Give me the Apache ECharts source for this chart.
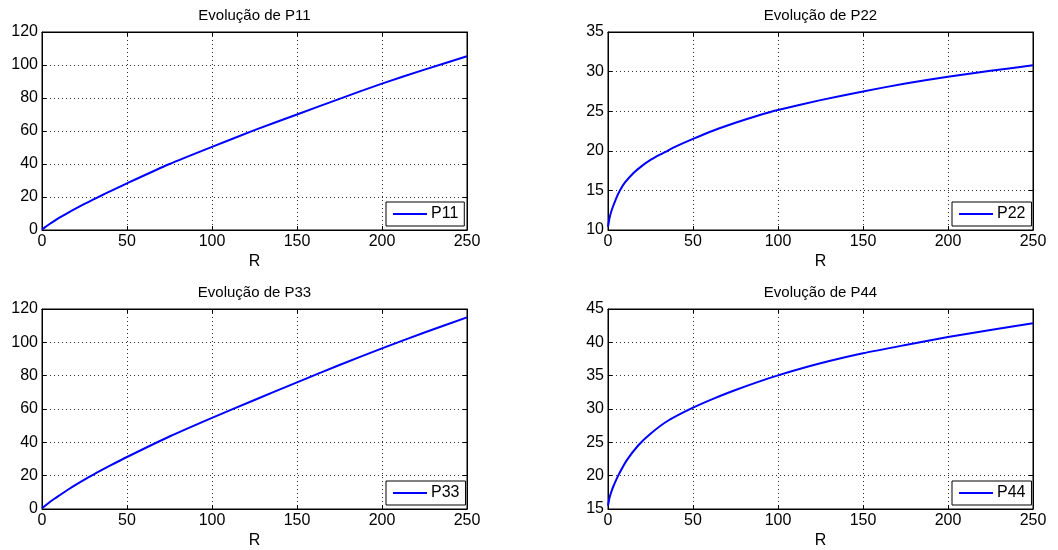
<!DOCTYPE html>
<html>
<head>
<meta charset="utf-8">
<script src="https://cdn.jsdelivr.net/npm/echarts@6/dist/echarts.min.js"></script>
<style>
html,body{margin:0;padding:0;background:#fff;}
#chart{width:1058px;height:550px;}
</style>
</head>
<body>
<div id="chart"></div>
<script>
// ---- Data ----
var titles = ['Evolução de P11', 'Evolução de P22', 'Evolução de P33', 'Evolução de P44'];
var seriesNames = ['P11', 'P22', 'P33', 'P44'];
var xTicks = [0, 50, 100, 150, 200, 250];

var R_P11 = [0, 2, 5, 7.5, 10, 15, 20, 25, 30, 35, 40, 50, 75, 100, 125, 150, 175, 200, 225, 250];
var P11   = [0.3, 1.9, 4.0, 5.7, 7.3, 10.3, 13.1, 15.8, 18.4, 20.9, 23.4, 28.3, 40, 50.4, 60.5, 70, 79.5, 88.7, 97.2, 105.3];

var R_P22 = [0, 1, 2, 3, 5, 7, 10, 15, 20, 25, 30, 35, 40, 50, 62.5, 75, 87.5, 100, 125, 150, 175, 200, 225, 250];
var P22   = [10.4, 11.6, 12.4, 13.0, 14.1, 15.0, 16.0, 17.2, 18.1, 18.85, 19.45, 20.0, 20.55, 21.5, 22.6, 23.55, 24.4, 25.15, 26.4, 27.5, 28.5, 29.35, 30.1, 30.8];

var R_P33 = [0, 2, 5, 7.5, 10, 15, 20, 25, 30, 35, 40, 50, 75, 100, 125, 150, 175, 200, 225, 250];
var P33   = [0.4, 2.1, 4.5, 6.3, 8.0, 11.4, 14.6, 17.6, 20.5, 23.3, 26.0, 31.2, 43.5, 54.7, 65.4, 76, 86.4, 96.4, 105.9, 115];

var R_P44 = [0, 1, 2, 3, 6, 11, 18, 25, 35, 50, 62.5, 75, 87.5, 100, 125, 150, 175, 200, 225, 250];
var P44   = [15.5, 16.8, 17.6, 18.3, 20.0, 22.3, 24.6, 26.3, 28.2, 30.2, 31.6, 32.85, 34.0, 35.05, 36.85, 38.35, 39.6, 40.8, 41.85, 42.85];

var yMins = [0, 10, 0, 15];
var yMaxs = [120, 35, 120, 45];
var yIntervals = [20, 5, 20, 5];

// ---- Layout ----
var grids = [
  {left: 42, top: 32, width: 425, height: 198},
  {left: 608, top: 32, width: 425, height: 198},
  {left: 42, top: 309, width: 425, height: 200},
  {left: 608, top: 309, width: 425, height: 200}
];
var xs = [R_P11, R_P22, R_P33, R_P44];
var ys = [P11, P22, P33, P44];

var FONT = "'Liberation Sans', Arial, sans-serif";
var FS = 16;

function pairs(a, b) { return a.map(function (v, i) { return [v, b[i]]; }); }

var option = {
  backgroundColor: '#ffffff',
  animation: false,
  textStyle: {fontFamily: FONT, color: '#000'},
  grid: [], xAxis: [], yAxis: [], series: [], legend: [], graphic: []
};

grids.forEach(function (g, i) {
  option.grid.push({left: g.left, top: g.top, width: g.width, height: g.height,
    show: true, borderColor: '#000', borderWidth: 1, backgroundColor: '#fff'});
  var gridLine = {show: true, lineStyle: {color: '#333', type: [1, 3], width: 1}};
  option.xAxis.push({
    type: 'value', gridIndex: i, min: 0, max: 250, interval: 50, position: 'bottom',
    name: 'R', nameLocation: 'middle', nameGap: 24,
    nameTextStyle: {fontFamily: FONT, fontSize: FS, color: '#000'},
    axisLine: {show: true, onZero: false, lineStyle: {color: '#000', width: 1}},
    axisTick: {show: true, inside: true, length: 4, lineStyle: {color: '#000'}},
    axisLabel: {show: true, fontFamily: FONT, fontSize: FS, color: '#000', margin: 4,
      formatter: function (v) { return xTicks.indexOf(v) >= 0 ? String(v) : ''; }},
    splitLine: gridLine
  });
  option.xAxis.push({
    type: 'value', gridIndex: i, min: 0, max: 250, interval: 50, position: 'top',
    axisLine: {show: true, onZero: false, lineStyle: {color: '#000', width: 1}},
    axisTick: {show: true, inside: true, length: 4, lineStyle: {color: '#000'}},
    axisLabel: {show: false}, splitLine: {show: false}
  });
  option.yAxis.push({
    type: 'value', gridIndex: i, min: yMins[i], max: yMaxs[i], interval: yIntervals[i], position: 'left',
    axisLine: {show: true, onZero: false, lineStyle: {color: '#000', width: 1}},
    axisTick: {show: true, inside: true, length: 4, lineStyle: {color: '#000'}},
    axisLabel: {show: true, fontFamily: FONT, fontSize: FS, color: '#000', margin: 4},
    splitLine: gridLine
  });
  option.yAxis.push({
    type: 'value', gridIndex: i, min: yMins[i], max: yMaxs[i], interval: yIntervals[i], position: 'right',
    axisLine: {show: true, onZero: false, lineStyle: {color: '#000', width: 1}},
    axisTick: {show: true, inside: true, length: 4, lineStyle: {color: '#000'}},
    axisLabel: {show: false}, splitLine: {show: false}
  });
  option.series.push({
    name: seriesNames[i], type: 'line', xAxisIndex: 2 * i, yAxisIndex: 2 * i,
    data: pairs(xs[i], ys[i]), symbol: 'none', smooth: 0.2,
    lineStyle: {color: '#0000ff', width: 2}, itemStyle: {color: '#0000ff'}, z: 5
  });
  option.legend.push({
    data: [seriesNames[i]], left: g.left + 344, top: g.top + g.height - 28,
    orient: 'vertical', backgroundColor: '#fff', borderColor: '#000', borderWidth: 1,
    borderRadius: 0, padding: [3, 6, 3, 7], itemWidth: 34, itemHeight: 2, itemGap: 0,
    icon: 'rect',
    textStyle: {fontFamily: FONT, fontSize: FS, color: '#000', lineHeight: 18, padding: [0, 0, 0, -1]},
    selectedMode: false
  });
  option.graphic.push({
    type: 'text', x: g.left + g.width / 2, y: g.top - 16,
    style: {text: titles[i], fontFamily: FONT, fontSize: 15, fill: '#000',
      textAlign: 'center', textVerticalAlign: 'middle'}
  });
});

var chart = echarts.init(document.getElementById('chart'), null, {renderer: 'canvas'});
chart.setOption(option);
</script>
</body>
</html>
